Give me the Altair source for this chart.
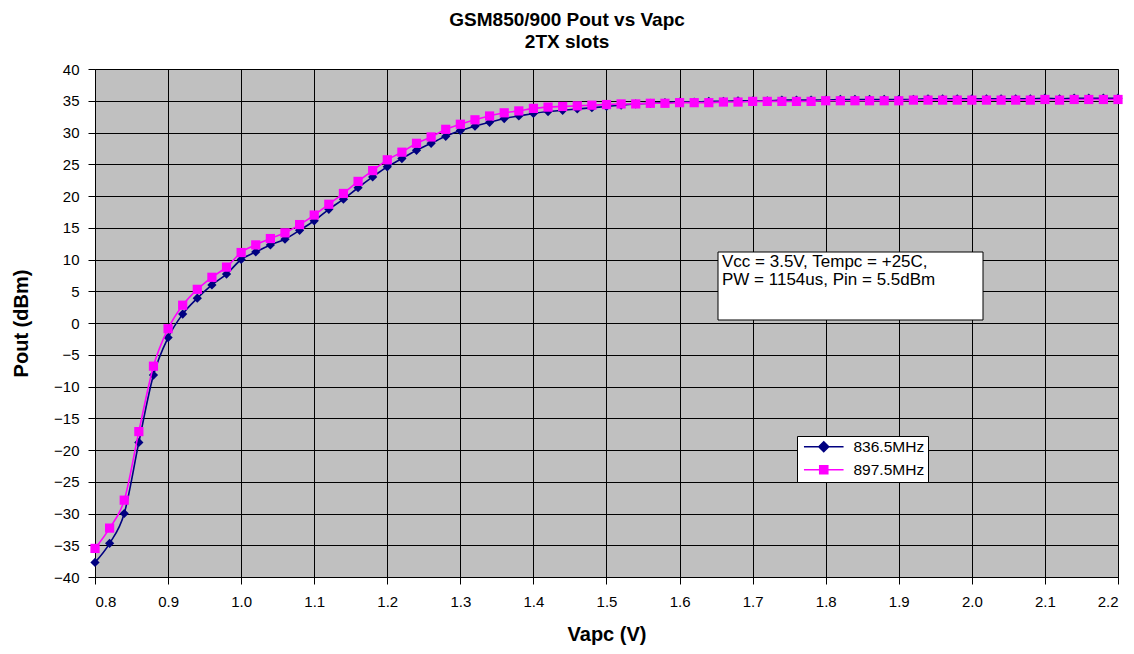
import altair as alt
import pandas as pd

vapc = [0.80, 0.82, 0.84, 0.86, 0.88, 0.90, 0.92, 0.94, 0.96, 0.98,
        1.00, 1.02, 1.04, 1.06, 1.08, 1.10, 1.12, 1.14, 1.16, 1.18,
        1.20, 1.22, 1.24, 1.26, 1.28, 1.30, 1.32, 1.34, 1.36, 1.38,
        1.40, 1.42, 1.44, 1.46, 1.48, 1.50, 1.52, 1.54, 1.56, 1.58,
        1.60, 1.62, 1.64, 1.66, 1.68, 1.70, 1.72, 1.74, 1.76, 1.78,
        1.80, 1.82, 1.84, 1.86, 1.88, 1.90, 1.92, 1.94, 1.96, 1.98,
        2.00, 2.02, 2.04, 2.06, 2.08, 2.10, 2.12, 2.14, 2.16, 2.18, 2.20]

p836 = [-37.7, -34.7, -30.0, -18.8, -8.2, -2.3, 1.4, 3.9, 6.0, 7.7,
        10.0, 11.2, 12.3, 13.2, 14.6, 16.1, 17.9, 19.5, 21.3, 23.0,
        24.6, 25.9, 27.2, 28.3, 29.4, 30.3, 31.0, 31.6, 32.2, 32.6,
        33.0, 33.3, 33.5, 33.7, 33.9, 34.1, 34.3, 34.5, 34.6, 34.7,
        34.8, 34.8, 34.9, 34.9, 35.0, 35.0, 35.0, 35.1, 35.1, 35.1,
        35.1, 35.2, 35.2, 35.2, 35.2, 35.2, 35.2, 35.3, 35.3, 35.3,
        35.3, 35.3, 35.3, 35.3, 35.3, 35.4, 35.3, 35.4, 35.4, 35.4, 35.4]

p897 = [-35.5, -32.3, -27.9, -17.1, -6.8, -0.9, 2.8, 5.3, 7.2, 8.8,
        11.1, 12.3, 13.3, 14.2, 15.5, 17.0, 18.7, 20.4, 22.3, 24.0,
        25.7, 26.9, 28.3, 29.3, 30.5, 31.3, 32.0, 32.6, 33.1, 33.4,
        33.8, 34.0, 34.1, 34.2, 34.3, 34.4, 34.5, 34.5, 34.6, 34.6,
        34.7, 34.7, 34.7, 34.8, 34.8, 34.9, 34.9, 34.9, 34.9, 34.9,
        35.0, 35.0, 35.0, 35.0, 35.0, 35.0, 35.1, 35.1, 35.1, 35.1,
        35.1, 35.1, 35.1, 35.1, 35.1, 35.2, 35.1, 35.2, 35.2, 35.2, 35.2]

series_names = ["836.5MHz", "897.5MHz"]
series_colors = ["#000080", "#FF00FF"]
x_ticks = [0.8, 0.9, 1.0, 1.1, 1.2, 1.3, 1.4, 1.5, 1.6, 1.7, 1.8, 1.9, 2.0, 2.1, 2.2]
y_ticks = [-40, -35, -30, -25, -20, -15, -10, -5, 0, 5, 10, 15, 20, 25, 30, 35, 40]
title_lines = ["GSM850/900 Pout vs Vapc", "2TX slots"]
note_lines = ["Vcc = 3.5V, Tempc = +25C,", "PW = 1154us, Pin = 5.5dBm"]

FONT = "Liberation Sans"

df = pd.DataFrame({
    "vapc": vapc + vapc,
    "pout": p836 + p897,
    "series": [series_names[0]] * len(vapc) + [series_names[1]] * len(vapc),
})

x_enc = alt.X("vapc:Q",
              scale=alt.Scale(domain=[0.8, 2.2], nice=False, zero=False),
              axis=alt.Axis(values=x_ticks, format=".1f", title="Vapc (V)",
                            labelPadding=10, titlePadding=15, tickSize=7))
y_enc = alt.Y("pout:Q",
              scale=alt.Scale(domain=[-40, 40], nice=False, zero=False),
              axis=alt.Axis(values=y_ticks, title="Pout (dBm)",
                            labelPadding=9, titlePadding=22, tickSize=7))

base = alt.Chart(df).encode(x=x_enc, y=y_enc)

layers = []
marker_shapes = ["diamond", "square"]
for name, col, shp in zip(series_names, series_colors, marker_shapes):
    sub = base.transform_filter(alt.datum.series == name)
    layers.append(sub.mark_line(color=col, strokeWidth=1.6, interpolate="monotone"))
    layers.append(sub.mark_point(shape=shp, filled=True, color=col, size=85, opacity=1))

legend_paths = ["M-4.4,0H4.4M0,-1.1L1.1,0L0,1.1L-1.1,0Z",
                "M-4.4,0H4.4M-0.9,-0.9H0.9V0.9H-0.9Z"]

leg_def = alt.Legend(title=None, orient="none", legendX=702, legendY=367,
                     strokeColor="black", fillColor="white", padding=3,
                     symbolSize=81, symbolStrokeWidth=1.5, symbolOffset=16,
                     labelOffset=22, labelFont=FONT, labelFontSize=15.5,
                     labelColor="black", rowPadding=6, cornerRadius=0)
cscale = alt.Scale(domain=series_names, range=series_colors)

legend_layer = alt.Chart(df).transform_filter(alt.datum.vapc < 0.81).mark_point(
    filled=True, opacity=1, clip=True, strokeWidth=1.5
).encode(
    x=alt.value(-200), y=alt.value(-200),
    fill=alt.Fill("series:N", scale=cscale, legend=leg_def),
    stroke=alt.Stroke("series:N", scale=cscale, legend=leg_def),
    shape=alt.Shape("series:N", scale=alt.Scale(domain=series_names, range=legend_paths), legend=leg_def),
)

one = pd.DataFrame({"k": [0]})
note_box = alt.Chart(one).mark_rect(fill="white", stroke="black", strokeWidth=1).encode(
    x=alt.value(623), x2=alt.value(888), y=alt.value(183), y2=alt.value(251))
note_text = alt.Chart(one).mark_text(
    text=note_lines, align="left", baseline="alphabetic", font=FONT,
    fontSize=17, lineHeight=18, color="black"
).encode(x=alt.value(627), y=alt.value(198))

chart = alt.layer(*layers, note_box, note_text, legend_layer).properties(
    width=1023, height=508,
    title=alt.TitleParams(text=title_lines, anchor="middle", frame="bounds",
                          font=FONT, fontSize=19, fontWeight="bold",
                          lineHeight=22, offset=10, color="black"),
    autosize=alt.AutoSizeParams(type="none"),
    padding={"left": 87, "top": 61, "right": 8, "bottom": 76},
    background="white",
).configure_view(
    fill="#C0C0C0", stroke="#808080", strokeWidth=1
).configure_axis(
    grid=True, gridColor="black", gridWidth=1, gridOpacity=1,
    domainColor="black", domainWidth=1, tickColor="black", tickWidth=1,
    labelColor="black", titleColor="black", labelFont=FONT, titleFont=FONT,
    labelFontSize=15, titleFontSize=20, titleFontWeight="bold"
)

chart.save("out.html", embed_options={"renderer": "svg", "actions": False})
